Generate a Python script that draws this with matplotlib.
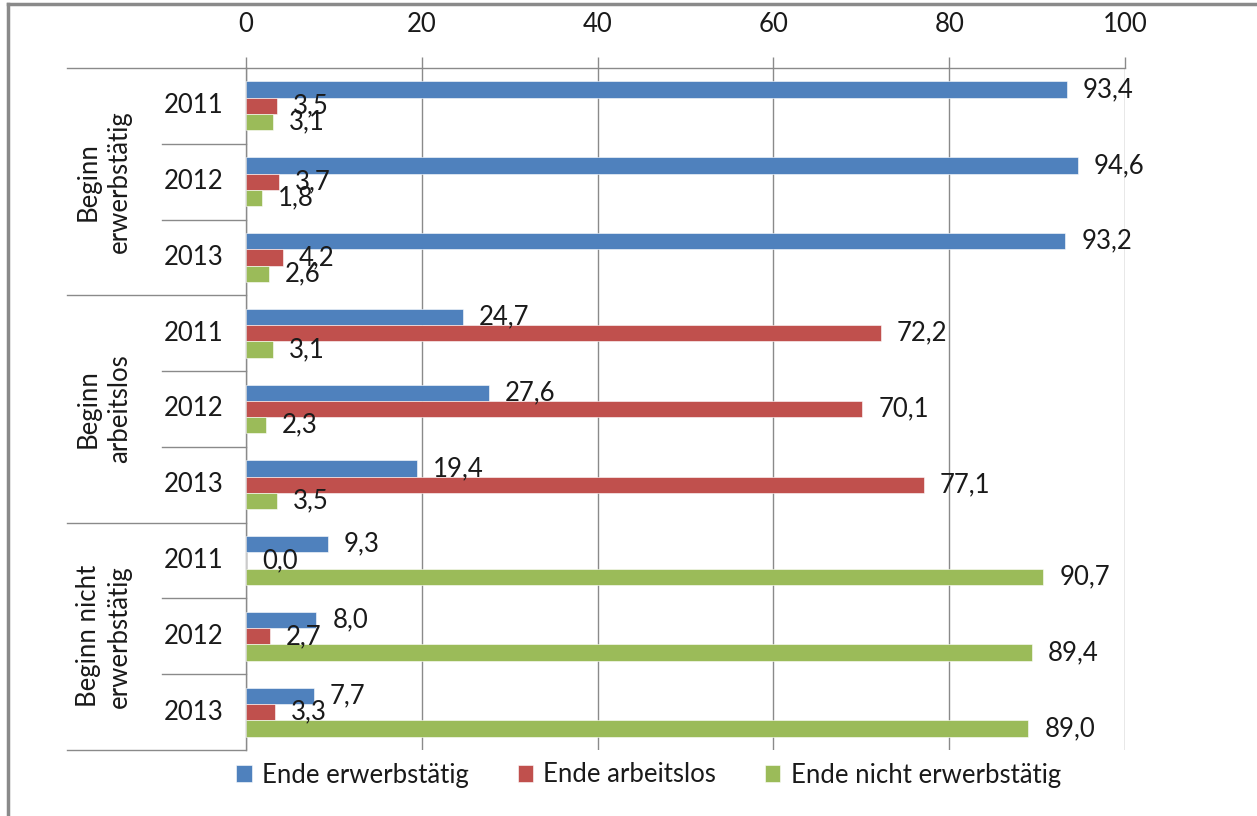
import numpy as np
import matplotlib
matplotlib.use("Agg")
import matplotlib.pyplot as plt
from matplotlib.lines import Line2D
import matplotlib.transforms as mtransforms

plt.rcParams['font.family'] = ['Lato', 'DejaVu Sans']

# ---- data ----
groups = ["Beginn\nerwerbstätig", "Beginn\narbeitslos", "Beginn nicht\nerwerbstätig"]
years = ["2011", "2012", "2013"]
series = ["Ende erwerbstätig", "Ende arbeitslos", "Ende nicht erwerbstätig"]
ende_erwerbstaetig = [93.4, 94.6, 93.2, 24.7, 27.6, 19.4, 9.3, 8.0, 7.7]
ende_arbeitslos = [3.5, 3.7, 4.2, 72.2, 70.1, 77.1, 0.0, 2.7, 3.3]
ende_nicht_erwerbstaetig = [3.1, 1.8, 2.6, 3.1, 2.3, 3.5, 90.7, 89.4, 89.0]
colors = ["#4F81BD", "#C0504D", "#9BBB59"]

GRID = "#8a8a8a"
TXT = "#1a1a1a"
FS = 18.5

fig = plt.figure(figsize=(12.57, 8.16), dpi=100)
W, H = 1257, 816
ax = fig.add_axes([246 / W, 1 - 750 / H, (1125 - 246) / W, (750 - 68) / H])

n = len(ende_erwerbstaetig)
y = np.arange(n)
bh = 0.215
for k, (vals, c) in enumerate(zip([ende_erwerbstaetig, ende_arbeitslos, ende_nicht_erwerbstaetig], colors)):
    yy = y + (k - 1) * bh
    ax.barh(yy, vals, height=bh, color=c, edgecolor="white", linewidth=0.4, label=series[k], zorder=3)
    for v, yi in zip(vals, yy):
        ax.annotate(f"{v:.1f}".replace(".", ","), (v, yi), xytext=(11.5, 0),
                    textcoords="offset points", ha="left", va="center",
                    fontsize=FS, color=TXT, zorder=4)

ax.set_xlim(0, 100)
ax.set_ylim(n - 0.5, -0.5)
ax.set_xticks([0, 20, 40, 60, 80, 100])
ax.xaxis.tick_top()
ax.tick_params(axis="x", direction="out", length=8, width=1, color=GRID,
               labelsize=FS, labelcolor=TXT, pad=14)
ax.set_yticks([])
ax.grid(axis="x", color=GRID, linewidth=1, zorder=0)
for s in ["right", "bottom"]:
    ax.spines[s].set_visible(False)
for s in ["top", "left"]:
    ax.spines[s].set_color(GRID)
    ax.spines[s].set_linewidth(1)

# category separators on the left
trans = mtransforms.blended_transform_factory(ax.transAxes, ax.transData)
x_grp = (67 - 246) / (1125 - 246)
x_yr = (162 - 246) / (1125 - 246)
for b in [-0.5, 2.5, 5.5, 8.5]:
    ax.plot([x_grp, 0], [b, b], transform=trans, color=GRID, lw=1, clip_on=False)
for b in [0.5, 1.5, 3.5, 4.5, 6.5, 7.5]:
    ax.plot([x_yr, 0], [b, b], transform=trans, color=GRID, lw=1, clip_on=False)

# year labels and group labels
x_year = (194 - 246) / (1125 - 246)
for i in range(n):
    ax.text(x_year, i, years[i % 3], transform=trans, ha="center", va="center",
            fontsize=FS, color=TXT)
x_group = (104 - 246) / (1125 - 246)
for g, name in enumerate(groups):
    ax.text(x_group, 3 * g + 1, name, transform=trans, rotation=90, ha="center",
            va="center", multialignment="center", fontsize=FS, color=TXT,
            linespacing=1.3)

# outer border (top and left only visible)
fig.add_artist(Line2D([8 / W, 1], [1 - 4 / H, 1 - 4 / H], color="#8a8a8a", lw=2.5))
fig.add_artist(Line2D([8 / W, 8 / W], [0, 1 - 4 / H], color="#8a8a8a", lw=2.5))

fig.legend(loc="center", bbox_to_anchor=(0.516, 1 - 775 / H), ncol=3, frameon=False,
           fontsize=FS, handlelength=0.6, handleheight=0.6, handletextpad=0.4,
           columnspacing=1.9, labelcolor=TXT)

fig.savefig("out.png", dpi=100)
